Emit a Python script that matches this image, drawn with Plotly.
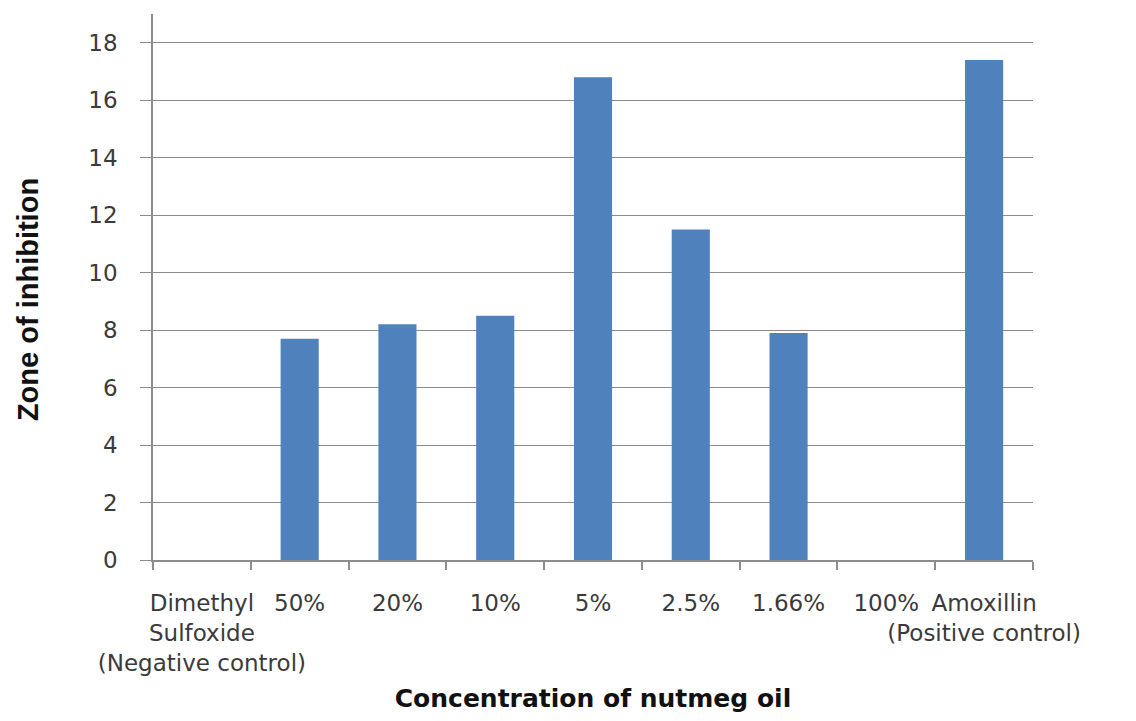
import plotly.graph_objects as go

categories = ["Dimethyl<br>Sulfoxide<br>(Negative control)", "50%", "20%", "10%", "5%",
              "2.5%", "1.66%", "100%", "Amoxillin<br>(Positive control)"]
values = [0, 7.7, 8.2, 8.5, 16.8, 11.5, 7.9, 0, 17.4]
y_ticks = [0, 2, 4, 6, 8, 10, 12, 14, 16, 18]

fig = go.Figure(go.Bar(x=categories, y=values, marker_color="#4F81BD", marker_line_width=0))

fig.update_layout(
    width=1120, height=705,
    margin=dict(l=145, r=95, t=6, b=153, autoexpand=False),
    plot_bgcolor="white", paper_bgcolor="white",
    bargap=0.61, showlegend=False,
    font=dict(family="DejaVu Sans", size=23, color="#3a3a3a"),
)
fig.update_xaxes(
    type="category", showline=True, linecolor="#8c8c8c", linewidth=1.5,
    ticks="outside", tickson="boundaries", ticklen=8, tickcolor="#8c8c8c", tickwidth=1.5,
    ticklabelstandoff=22, tickangle=0, automargin=False,
    title=dict(text="<b>Concentration of nutmeg oil</b>",
               font=dict(family="DejaVu Sans", size=25, color="#111"), standoff=18),
)
fig.update_yaxes(
    range=[0, 19], tickvals=y_ticks, showline=True, linecolor="#8c8c8c", linewidth=1.5,
    showgrid=True, gridcolor="#8c8c8c", gridwidth=1.2,
    ticks="outside", ticklen=11, tickcolor="#8c8c8c", tickwidth=1.2,
    ticklabelstandoff=18, zeroline=False, automargin=False,
)
fig.add_annotation(
    text="<b>Zone of inhibition</b>", textangle=-90,
    xref="paper", yref="paper", x=0, y=0.476, xshift=-125,
    xanchor="center", yanchor="middle", showarrow=False,
    font=dict(family="Liberation Sans", size=29, color="#111"),
)
fig.write_html("out.html")
